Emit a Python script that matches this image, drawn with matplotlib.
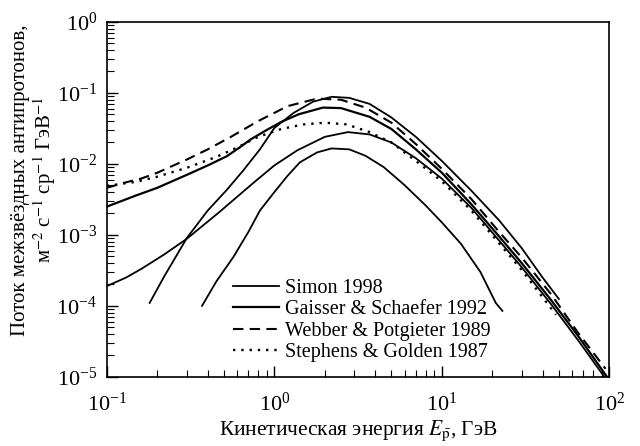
import numpy as np
import matplotlib.pyplot as plt

plt.rcParams['font.family'] = ['Liberation Serif', 'DejaVu Serif']
plt.rcParams['mathtext.fontset'] = 'stix'

# Gaisser & Schaefer 1992
E_gs = [0.1, 0.15, 0.2, 0.3, 0.4, 0.52, 0.62, 0.72, 0.9, 1.1, 1.4, 1.95, 2.5, 3.7, 5, 7, 10, 15, 22, 30, 45, 65, 100]
F_gs = [2.5e-3, 3.6e-3, 4.6e-3, 7.0e-3, 9.5e-3, 0.0128, 0.017, 0.022, 0.03, 0.039, 0.05, 0.062, 0.061, 0.046,
        0.031, 0.016, 7.5e-3, 2.7e-3, 9.5e-4, 4.0e-4, 1.2e-4, 3.8e-5, 9e-6]

# Simon 1998 (три кривые)
E_s1 = [0.1, 0.13, 0.16, 0.22, 0.3, 0.47, 0.75, 1.0, 1.37, 2.0, 2.75, 3.7, 5, 7, 10, 15, 22, 30, 45, 65, 100]
F_s1 = [1.9e-4, 2.5e-4, 3.3e-4, 5.3e-4, 8.8e-4, 2.1e-3, 5.4e-3, 9.5e-3, 0.0155, 0.024, 0.028, 0.026, 0.02,
        0.012, 6.2e-3, 2.4e-3, 8.3e-4, 3.5e-4, 1.05e-4, 3.3e-5, 8e-6]

E_s2 = [0.18, 0.22, 0.3, 0.4, 0.52, 0.65, 0.82, 1.0, 1.3, 1.7, 2.2, 2.8, 3.7, 5, 7, 10, 15, 22, 30, 40, 50]
F_s2 = [1.1e-4, 2.6e-4, 9e-4, 2.2e-3, 4.3e-3, 8e-3, 0.016, 0.032, 0.052, 0.075, 0.088, 0.085, 0.07, 0.045,
        0.024, 0.011, 4.2e-3, 1.6e-3, 6.5e-4, 2.5e-4, 1.25e-4]

E_s3 = [0.37, 0.45, 0.57, 0.7, 0.82, 1.0, 1.2, 1.42, 1.8, 2.2, 2.8, 3.5, 4.5, 6, 8, 10, 13, 17, 21, 23]
F_s3 = [1.0e-4, 2.2e-4, 4.9e-4, 1.1e-3, 2.2e-3, 4.0e-3, 6.8e-3, 0.0105, 0.0145, 0.0165, 0.016, 0.013, 9e-3,
        5e-3, 2.6e-3, 1.5e-3, 7.5e-4, 3e-4, 1.1e-4, 8.5e-5]

# Webber & Potgieter 1989
E_wp = [0.1, 0.13, 0.16, 0.2, 0.25, 0.3, 0.4, 0.55, 0.8, 1.2, 1.8, 2.5, 3.5, 5, 7, 10, 15, 22, 30, 45, 65, 95]
F_wp = [4.6e-3, 5.5e-3, 6.2e-3, 7.5e-3, 9.5e-3, 0.0115, 0.016, 0.024, 0.04, 0.065, 0.083, 0.08, 0.062, 0.038,
        0.019, 8.5e-3, 3.2e-3, 1.1e-3, 4.8e-4, 1.45e-4, 4.2e-5, 1.3e-5]

# Stephens & Golden 1987
E_sg = [0.1, 0.15, 0.2, 0.3, 0.45, 0.6, 0.8, 1.1, 1.5, 2.0, 2.7, 3.7, 5, 7, 10, 15, 22, 30, 48]
F_sg = [4.9e-3, 5.6e-3, 6.6e-3, 8.8e-3, 0.0125, 0.017, 0.024, 0.031, 0.036, 0.038, 0.036, 0.028, 0.02,
        0.011, 5.7e-3, 2.2e-3, 7.6e-4, 3.2e-4, 7.5e-5]

fig = plt.figure(figsize=(6.4, 4.46), dpi=100)
ax = fig.add_axes([0.167, 0.155, 0.785, 0.796])

lw = 1.3
ax.plot(E_s1, F_s1, 'k-', lw=lw, label='Simon 1998')
ax.plot(E_s2, F_s2, 'k-', lw=lw)
ax.plot(E_s3, F_s3, 'k-', lw=lw)
ax.plot(E_gs, F_gs, 'k-', lw=lw + 0.3, label='Gaisser & Schaefer 1992')
ax.plot(E_wp, F_wp, 'k--', lw=lw + 0.2, dashes=(5, 3), label='Webber & Potgieter 1989')
ax.plot(E_sg, F_sg, 'k', ls=(0, (1, 2.5)), lw=lw + 0.4, label='Stephens & Golden 1987')

ax.set_xscale('log')
ax.set_yscale('log')
ax.set_xlim(0.1, 100)
ax.set_ylim(1e-5, 1)

ax.tick_params(which='both', direction='in', top=False, right=False, labelsize=16)
ax.tick_params(which='major', length=8, width=1.0)
ax.tick_params(axis='x', which='major', pad=11)
ax.tick_params(axis='y', which='major', pad=7)
ax.tick_params(which='minor', length=5, width=0.8)
for s in ax.spines.values():
    s.set_linewidth(1.2)

ax.set_xlabel(r'Кинетическая энергия $E_{\bar{\mathrm{p}}}$, ГэВ', fontsize=15.5, labelpad=2)
ax.set_ylabel('Поток межзвёздных антипротонов,\n'
              r'м$^{-2}$ с$^{-1}$ ср$^{-1}$ ГэВ$^{-1}$', fontsize=15, linespacing=1.05)
ax.yaxis.set_label_coords(-0.097, 0.555)

ax.legend(loc='lower left', bbox_to_anchor=(0.235, 0.018), frameon=False, fontsize=14.5,
          handlelength=2.3, handletextpad=0.3, labelspacing=0.12, borderaxespad=0)

fig.savefig('out.png', dpi=100)
